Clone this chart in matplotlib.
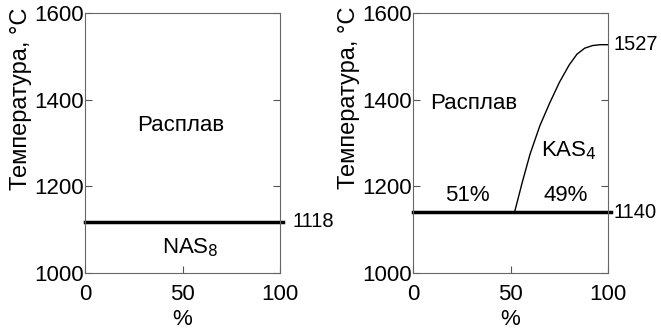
import matplotlib
matplotlib.use("Agg")
import matplotlib.pyplot as plt

plt.rcParams['font.family'] = ['Liberation Sans', 'DejaVu Sans']

# Data
x_ticks = [0, 50, 100]
y_ticks = [1000, 1200, 1400, 1600]
left_eutectic = 1118
right_eutectic = 1140
right_melt = 1527
liq_x = [52, 56, 60, 65, 70, 75, 80, 84, 88, 92, 96, 100]
liq_y = [1140, 1210, 1275, 1340, 1392, 1440, 1480, 1505, 1519, 1525, 1527, 1527]

fig = plt.figure(figsize=(6.61, 3.35), dpi=100)
axL = fig.add_axes([0.1286, 0.185, 0.295, 0.776])
axR = fig.add_axes([0.625, 0.185, 0.295, 0.776])

fs = 16
nfs = 14.5
for ax in (axL, axR):
    ax.set_xlim(0, 100)
    ax.set_ylim(1000, 1600)
    ax.set_xticks(x_ticks)
    ax.set_yticks(y_ticks)
    ax.tick_params(direction='in', right=True, top=False, labelsize=fs,
                   length=5, width=0.8, color='#555555')
    ax.tick_params(axis='x', pad=8)
    ax.tick_params(axis='y', pad=1)
    for s in ax.spines.values():
        s.set_color('#666666')
        s.set_linewidth(0.8)
    ax.set_xlabel('%', fontsize=fs, labelpad=3)
    ax.set_ylabel('Температура, °С', fontsize=17)

axL.yaxis.set_label_coords(-0.27, 0.67)
axR.yaxis.set_label_coords(-0.27, 0.675)

# Left panel
axL.plot([0, 101.5], [left_eutectic, left_eutectic], color='black', lw=2.5, clip_on=False)
axL.text(106.5, left_eutectic, '1118', fontsize=nfs, va='center', ha='left')
axL.text(49, 1341, 'Расплав', fontsize=fs, ha='center', va='center')
axL.text(54, 1058, 'NAS$_8$', fontsize=fs, ha='center', va='center')

# Right panel
axR.plot([0, 101.5], [right_eutectic, right_eutectic], color='black', lw=2.5, clip_on=False)
axR.plot(liq_x, liq_y, color='black', lw=1.0)
axR.text(102.6, right_eutectic, '1140', fontsize=nfs, va='center', ha='left')
axR.text(102.6, right_melt, '1527', fontsize=nfs, va='center', ha='left')
axR.text(31, 1392, 'Расплав', fontsize=fs, ha='center', va='center')
axR.text(80, 1282, 'KAS$_4$', fontsize=fs, ha='center', va='center')
axR.text(28, 1178, '51%', fontsize=fs, ha='center', va='center')
axR.text(78, 1178, '49%', fontsize=fs, ha='center', va='center')

fig.savefig('out.png', dpi=100)
